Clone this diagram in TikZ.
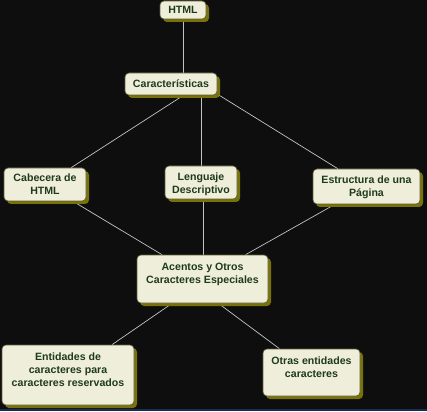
\documentclass[tikz,border=0pt]{standalone}
\usepackage{fontspec}
\setmainfont{Liberation Sans}
\usepackage{xcolor}
\usetikzlibrary{positioning,shadows,backgrounds}
\definecolor{bgdark}{HTML}{0E0E0E}
\definecolor{stripblue}{HTML}{1C2B55}
\definecolor{boxfill}{HTML}{EFEEDA}
\definecolor{boxline}{HTML}{5E5C34}
\definecolor{boxshadow}{HTML}{77730A}
\definecolor{boxtext}{HTML}{1E3A1E}
\definecolor{linkgray}{HTML}{BFC4C4}
\newcommand{\boxlabel}[4][15pt]{\parbox[c][#3][t]{#2}{\centering\rule{0pt}{#1}#4}}

\begin{document}
\begin{tikzpicture}[on grid,
    concept/.style={rectangle,rounded corners=4pt,draw=boxline,line width=0.6pt,fill=boxfill,
        text=boxtext,inner sep=0pt,font=\fontsize{10.6}{13}\selectfont\bfseries,
        general shadow={fill=boxshadow,shadow xshift=3pt,shadow yshift=-3pt}},
    link/.style={draw=linkgray,line width=0.7pt}]%
    \useasboundingbox (0,0) rectangle (427pt,-411pt);
    \node[concept] (html) at (183pt,-10pt) {\boxlabel[12.3pt]{46pt}{18pt}{HTML}};
    \node[concept, below left=74pt and 12pt of html] (carac) {\boxlabel{92pt}{22pt}{Características}};
    \node[concept, below left=100.5pt and 126pt of carac] (cab) {\boxlabel[13.5pt]{82pt}{33pt}{Cabecera de\\HTML}};
    \node[concept, below right=98.5pt and 30pt of carac] (len) {\boxlabel{72pt}{33pt}{Lenguaje\\Descriptivo}};
    \node[concept, below right=102.5pt and 195.5pt of carac] (est) {\boxlabel[14.6pt]{107pt}{35pt}{Estructura de una\\Página}};
    \node[concept, below right=96.5pt and 1.5pt of len] (acen) {\boxlabel[15.5pt]{131pt}{48pt}{Acentos y Otros\\Caracteres Especiales}};
    \node[concept, below left=96pt and 134.5pt of acen] (ent) {\boxlabel[15.5pt]{132pt}{60pt}{Entidades de\\caracteres para\\caracteres reservados}};
    \node[concept, below right=93.5pt and 109pt of acen] (otr) {\boxlabel[15.5pt]{97pt}{47pt}{Otras entidades\\caracteres}};

    \begin{scope}[on background layer]
    \fill[bgdark] (0,0) rectangle (427pt,-411pt);
    \fill[stripblue] (0,-408.5pt) rectangle (427pt,-411pt);
    \path[link]
            (html.south) edge (html.south |- carac.north)
            ([xshift=30pt]carac.center) edge (cab)
            ([xshift=30pt]carac.center) edge (len)
            ([xshift=30pt]carac.center) edge (est)
            (cab) edge (acen)
            ([xshift=2pt]len.south) edge ([xshift=2pt]len.south |- acen.north)
            (est) edge (acen)
            ([xshift=5pt]acen.center) edge (ent)
            ([xshift=-17pt]acen.center) edge (otr);
    \end{scope}
\end{tikzpicture}
\end{document}
